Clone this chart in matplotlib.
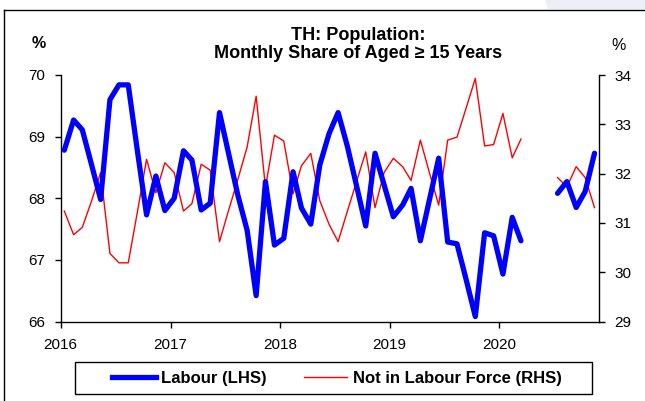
import numpy as np
import pandas as pd
import matplotlib
matplotlib.use('Agg')
import matplotlib.pyplot as plt
import matplotlib.patches as patches
from matplotlib.lines import Line2D

plt.rcParams['font.family'] = ['Liberation Sans', 'DejaVu Sans']

# Monthly data, Jan 2016 - Nov 2020 (NaN = missing months)
months = pd.date_range('2016-01-01', periods=59, freq='MS')

labour = [
    68.78, 69.27, 69.11, 68.54, 67.98, 69.60, 69.84, 69.84, 68.75, 67.73, 68.36, 67.80,
    68.00, 68.77, 68.62, 67.81, 67.92, 69.39, 68.73, 68.05, 67.48, 66.42, 68.27, 67.24,
    67.35, 68.43, 67.84, 67.58, 68.54, 69.05, 69.39, 68.84, 68.19, 67.55, 68.73, 68.22,
    67.70, 67.89, 68.16, 67.31, 67.97, 68.65, 67.29, 67.26, 66.67, 66.08, 67.44, 67.39,
    66.77, 67.69, 67.31, np.nan, np.nan, np.nan, 68.08, 68.27, 67.85, 68.11, 68.73,
]
not_in_lf = [
    31.24, 30.76, 30.91, 31.45, 32.02, 30.38, 30.19, 30.19, 31.24, 32.29, 31.61, 32.22,
    32.02, 31.24, 31.39, 32.19, 32.07, 30.62, 31.25, 31.88, 32.54, 33.57, 31.72, 32.78,
    32.66, 31.59, 32.16, 32.41, 31.45, 30.97, 30.62, 31.24, 31.85, 32.44, 31.31, 32.02,
    32.31, 32.14, 31.86, 32.68, 32.02, 31.36, 32.68, 32.74, 33.34, 33.93, 32.56, 32.59,
    33.22, 32.32, 32.70, np.nan, np.nan, np.nan, 31.92, 31.73, 32.14, 31.92, 31.31,
]
years = [2016, 2017, 2018, 2019, 2020]

BLUE = '#0000FF'
RED = '#FF0000'

fig = plt.figure(figsize=(6.45, 4.01), dpi=100)
fig.patch.set_facecolor('white')

# slide decoration and frame
fig.patches.append(patches.Polygon([[545 / 645, 1], [1, 1], [1, 1 - 9 / 401], [548 / 645, 1 - 9 / 401]],
                                   closed=True, transform=fig.transFigure, facecolor='#EEEEF6',
                                   edgecolor='none', zorder=0))
fig.add_artist(Line2D([4 / 645, 1], [1 - 10 / 401, 1 - 10 / 401], transform=fig.transFigure,
                      color='black', lw=1.0))
fig.add_artist(Line2D([4 / 645, 4 / 645], [0, 1 - 10 / 401], transform=fig.transFigure,
                      color='black', lw=1.0))

ax = fig.add_axes([60.7 / 645, 1 - 321.5 / 401, (599 - 60.7) / 645, (321.5 - 75) / 401])
ax2 = ax.twinx()

x = months + pd.Timedelta(days=12)
ax.plot(x, labour, color=BLUE, lw=3.8, solid_joinstyle='round', solid_capstyle='round', zorder=3)
ax2.plot(x, not_in_lf, color=RED, lw=1.0, zorder=2)
ax.set_zorder(ax2.get_zorder() + 1)
ax.patch.set_visible(False)

ax.set_xlim(pd.Timestamp('2016-01-01'), pd.Timestamp('2020-11-28'))
ax.set_ylim(66, 70)
ax2.set_ylim(29, 34)
ax.set_yticks([66, 67, 68, 69, 70])
ax2.set_yticks([29, 30, 31, 32, 33, 34])
ax.set_xticks([pd.Timestamp(f'{y}-01-01') for y in years])
ax.set_xticklabels([str(y) for y in years])

for a in (ax, ax2):
    a.spines['top'].set_visible(False)
    for s in a.spines.values():
        s.set_linewidth(1.0)
    a.tick_params(direction='out', length=4, width=1.0, labelsize=11, colors='black', pad=7)
ax.spines['right'].set_visible(False)
ax2.spines['left'].set_visible(False)
ax2.spines['bottom'].set_visible(False)
ax.tick_params(axis='x', pad=8)

# titles
fig.text(358 / 645, 1 - 35 / 401, 'TH: Population:', ha='center', va='center',
         fontsize=13, fontweight='bold')
fig.text(358 / 645, 1 - 53 / 401, 'Monthly Share of Aged \u2265 15 Years', ha='center', va='center',
         fontsize=13, fontweight='bold')
fig.text(39 / 645, 1 - 43 / 401, '%', ha='center', va='center', fontsize=11.5, fontweight='bold')
fig.text(619 / 645, 1 - 45 / 401, '%', ha='center', va='center', fontsize=11.5)

# legend
fig.patches.append(patches.Rectangle((75 / 645, 1 - 394 / 401), 517 / 645, 32 / 401,
                                     transform=fig.transFigure, facecolor='white',
                                     edgecolor='black', lw=1.0, zorder=1))
handles = [Line2D([], [], color=BLUE, lw=3.8), Line2D([], [], color=RED, lw=1.0)]
fig.legend(handles, ['Labour (LHS)', 'Not in Labour Force (RHS)'], loc='center',
           bbox_to_anchor=(337 / 645, 1 - 378 / 401), ncol=2, frameon=False,
           prop={'weight': 'bold', 'size': 12}, handlelength=2.6, handletextpad=0.35,
           columnspacing=2.2)

fig.savefig('out.png', dpi=100, facecolor='white')
